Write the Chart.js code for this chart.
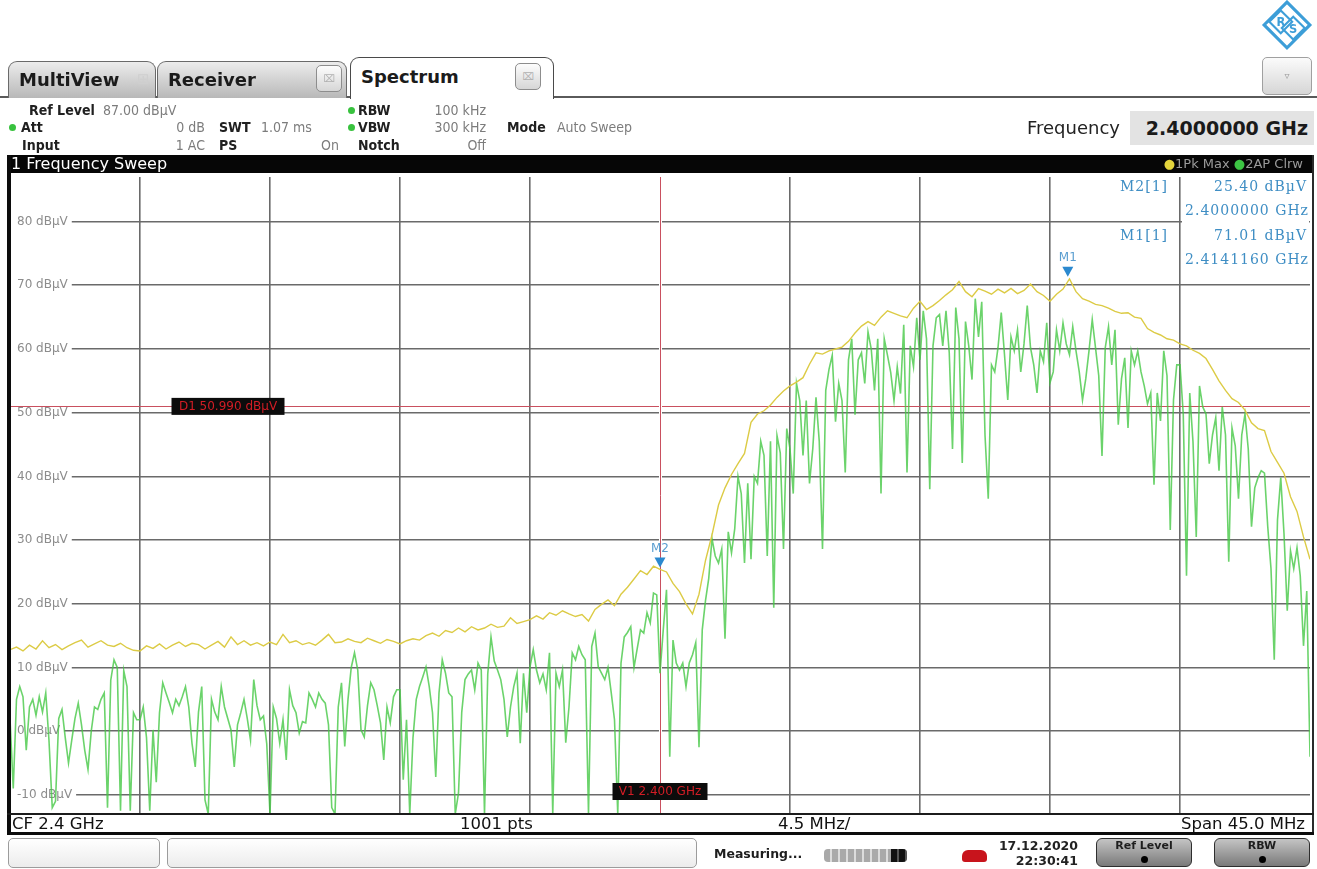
<!DOCTYPE html>
<html>
<head>
<meta charset="utf-8">
<title>1 Frequency Sweep</title>
<script src="https://cdn.jsdelivr.net/npm/chart.js@4.4.1/dist/chart.umd.min.js"></script>
<style>
  body { margin: 0; background: #fff; font-family: "DejaVu Sans", sans-serif; }
  #screen { position: relative; width: 1317px; height: 869px; overflow: hidden; background: #fff; }
  #screen > * { position: absolute; box-sizing: border-box; }
  #sweep { left: 0; top: 0; z-index: 1; }
  .ui { z-index: 2; white-space: nowrap; }
  .tab { top: 61px; height: 37px; border: 1px solid #6a6a6a; border-bottom: none; border-radius: 9px 9px 0 0;
         background: linear-gradient(#ececec, #b8b8b8); font: bold 18px "DejaVu Sans"; line-height: 35px;
         padding-left: 10px; color: #1b1b1b; z-index: 2; }
  .tab.active { top: 57px; height: 42px; background: #fff; border: 1.5px solid #4a4a4a; border-bottom: none;
                line-height: 38px; }
  .close { top: 65px; width: 26px; height: 27px; border: 1px solid #8d8d8d; border-radius: 5px;
           background: linear-gradient(#fdfdfd, #d6d6d6); font: 10px "DejaVu Sans"; color: #b0b0b0;
           text-align: center; line-height: 25px; z-index: 3; }
  .lbl { font: bold 14px "DejaVu Sans Condensed"; color: #202020; line-height: 18px; z-index: 2; }
  .val { font: 14px "DejaVu Sans Condensed"; color: #7c7c7c; line-height: 18px; z-index: 2; white-space: nowrap; }
  .dot { width: 7px; height: 7px; border-radius: 50%; background: #38c23e; z-index: 2; }
  .foot { font: 16.5px "DejaVu Sans"; color: #111; line-height: 17px; top: 815px; z-index: 2; white-space: nowrap; }
  .box { top: 838px; height: 30px; border: 1px solid #9c9c9c; border-radius: 5px;
         background: linear-gradient(#ffffff, #ececec); z-index: 2; }
  .btn { top: 838px; height: 29px; border: 1.5px solid #2e2e2e; border-radius: 6px;
         background: linear-gradient(#c4c4c4, #7a7a7a); z-index: 2; text-align: center;
         font: bold 11px "DejaVu Sans"; color: #1e1e1e; line-height: 14px; }
  .btn span { display: block; width: 7px; height: 7px; border-radius: 50%; background: #000; margin: 3px auto 0; }
</style>
</head>
<body>
<div id="screen">
  <canvas id="sweep" width="1317" height="869"></canvas>

  <!-- logo and tabs -->
  <svg class="ui" style="left:1261px;top:0px" width="52" height="52" viewBox="0 0 50 50">
    <polygon points="25,2 47,24 25,46 3,24" fill="none" stroke="#3d9ed8" stroke-width="3"/>
    <polygon points="19,10 30,21 19,32 8,21" fill="none" stroke="#3d9ed8" stroke-width="2"/>
    <polygon points="31,16 42,27 31,38 20,27" fill="none" stroke="#3d9ed8" stroke-width="2"/>
    <text x="15" y="25" font-family="DejaVu Sans" font-size="11" font-weight="bold" fill="#3d9ed8">R</text>
    <text x="27" y="32" font-family="DejaVu Sans" font-size="11" font-weight="bold" fill="#3d9ed8">S</text>
  </svg>
  <div class="ui" style="left:0;top:96px;width:1317px;height:2px;background:#5a5a5a"></div>
  <div class="tab" style="left:8px;width:148px">MultiView<span style="position:absolute;left:128px;top:0;color:#cfcfcf;font-weight:normal;font-size:15px">&#8862;</span></div>
  <div class="tab" style="left:157px;width:190px">Receiver</div>
  <div class="close" style="left:316px">&#8999;</div>
  <div class="tab active" style="left:350px;width:204px;z-index:3">Spectrum</div>
  <div class="close" style="left:515px;top:63px;z-index:4">&#8999;</div>
  <div class="ui" style="left:1262px;top:57px;width:50px;height:38px;border:1px solid #a0a0a0;border-radius:5px;background:linear-gradient(#fbfbfb,#d6d6d6);text-align:center;font:10px 'DejaVu Sans';color:#999;line-height:36px">&#9663;</div>

  <!-- setting rows -->
  <div class="lbl" style="left:29px;top:101px">Ref Level</div>
  <div class="val" style="left:103px;top:101px">87.00 dBµV</div>
  <div class="dot" style="left:348px;top:107px"></div>
  <div class="lbl" style="left:358px;top:101px">RBW</div>
  <div class="val" style="right:831px;top:101px">100 kHz</div>

  <div class="dot" style="left:9px;top:124px"></div>
  <div class="lbl" style="left:21px;top:118px">Att</div>
  <div class="val" style="right:1112px;top:118px">0 dB</div>
  <div class="lbl" style="left:219px;top:118px">SWT</div>
  <div class="val" style="left:261px;top:118px">1.07 ms</div>
  <div class="dot" style="left:348px;top:124px"></div>
  <div class="lbl" style="left:358px;top:118px">VBW</div>
  <div class="val" style="right:831px;top:118px">300 kHz</div>
  <div class="lbl" style="left:507px;top:118px">Mode</div>
  <div class="val" style="left:557px;top:118px">Auto Sweep</div>

  <div class="lbl" style="left:22px;top:136px">Input</div>
  <div class="val" style="right:1112px;top:136px">1 AC</div>
  <div class="lbl" style="left:219px;top:136px">PS</div>
  <div class="val" style="right:978px;top:136px">On</div>
  <div class="lbl" style="left:358px;top:136px">Notch</div>
  <div class="val" style="right:831px;top:136px">Off</div>

  <div class="ui" style="left:1027px;top:116px;font:18px 'DejaVu Sans';color:#222;line-height:24px">Frequency</div>
  <div class="ui" style="left:1130px;top:111px;width:184px;height:34px;background:#e3e3e3;font:bold 19px 'DejaVu Sans';color:#1a1a1a;line-height:34px;text-align:right;padding-right:6px">2.4000000 GHz</div>

  <!-- window frame -->
  <div class="ui" style="left:7px;top:155px;width:1307px;height:18px;background:#060606;color:#fff;font:16px 'DejaVu Sans';line-height:17px;padding-left:4px">1 Frequency Sweep</div>
  <div class="ui" style="right:14px;top:155px;height:18px;font:13px 'DejaVu Sans';color:#9b9b9b;line-height:18px"><span style="color:#e3d43c">&#9679;</span>1Pk Max <span style="color:#3cc543">&#9679;</span>2AP Clrw</div>
  <div class="ui" style="left:7px;top:155px;width:4px;height:680px;background:#0c0c0c"></div>
  <div class="ui" style="left:1312px;top:155px;width:2px;height:680px;background:#2a2a2a"></div>
  <div class="ui" style="left:7px;top:813px;width:1307px;height:2px;background:#1c1c1c"></div>
  <div class="ui" style="left:7px;top:832px;width:1307px;height:3px;background:#0c0c0c"></div>
  <div class="foot" style="left:12px">CF 2.4 GHz</div>
  <div class="foot" style="left:460px">1001 pts</div>
  <div class="foot" style="left:778px">4.5 MHz/</div>
  <div class="foot" style="right:12px">Span 45.0 MHz</div>

  <!-- status bar -->
  <div class="box" style="left:8px;width:152px"></div>
  <div class="box" style="left:167px;width:530px"></div>
  <div class="ui" style="left:714px;top:846px;font:bold 12.5px 'DejaVu Sans';color:#1e1e1e">Measuring...</div>
  <div class="ui" style="left:824px;top:849px;width:83px;height:13px;border-radius:4px;background:repeating-linear-gradient(90deg,#a9a9a9 0 6px,#dcdcdc 6px 8px)"></div>
  <div class="ui" style="left:891px;top:849px;width:16px;height:13px;border-radius:0 4px 4px 0;background:repeating-linear-gradient(90deg,#111 0 6px,#555 6px 8px)"></div>
  <div class="ui" style="left:962px;top:850px;width:25px;height:12px;border-radius:6px 6px 3px 3px;background:#c8141c"></div>
  <div class="ui" style="right:239px;top:838px;font:bold 12.5px 'DejaVu Sans';color:#222;line-height:15px">17.12.2020</div>
  <div class="ui" style="right:239px;top:853px;font:bold 12.5px 'DejaVu Sans';color:#222;line-height:15px">22:30:41</div>
  <div class="btn" style="left:1096px;width:96px">Ref Level<span></span></div>
  <div class="btn" style="left:1214px;width:96px">RBW<span></span></div>
</div>

<script>
// sweep: CF 2.4 GHz, span 45 MHz, ref level 87 dBµV, 10 dB/div
const spanStartMHz = 2377.5;
const spanStopMHz = 2422.5;
const levelMin = -13;
const levelMax = 87;
const freqTicksMHz = [2382, 2386.5, 2391, 2395.5, 2400, 2404.5, 2409, 2413.5, 2418];
const levelTicks = [-10, 0, 10, 20, 30, 40, 50, 60, 70, 80];

// trace 1, 1Pk Max (dBµV), 20 points per division
const pkMaxLevels = [
  12.8, 13.2, 12.6, 13.5, 12.9, 14.2, 13.1, 13.6, 12.8, 13.4, 13.9, 14.3, 13.2, 13.7, 14.2, 13.5, 13.3, 13.8, 13.1, 12.7,
  12.6, 13.4, 13.0, 13.7, 12.9, 13.5, 14.0, 13.3, 13.8, 13.6, 12.9, 13.5, 14.1, 13.2, 14.8, 13.6, 14.2, 13.5, 13.9, 13.4,
  14.0, 13.6, 15.2, 13.9, 14.2, 13.6, 13.9, 13.5, 14.3, 15.2, 13.9, 14.0, 14.5, 14.1, 13.9, 14.6, 14.2, 13.8, 14.4, 14.1,
  13.7, 14.2, 14.5, 14.3, 15.0, 15.4, 14.9, 15.8, 15.5, 16.2, 15.6, 16.4, 15.9, 16.2, 16.8, 16.3, 16.5, 17.8, 16.9, 17.2,
  17.5, 18.1, 17.6, 18.6, 18.2, 18.9, 18.4, 18.0, 18.3, 17.3, 19.1, 19.9, 20.6, 19.7, 21.5, 22.6, 23.9, 25.2, 24.6, 25.9,
  25.4, 25.0, 23.2, 21.9, 20.0, 18.4, 21.5, 26.8, 30.8, 35.5, 38.2, 40.3, 42.0, 43.6, 48.5, 49.8, 50.3, 51.2, 52.4, 53.4,
  54.2, 54.8, 55.5, 57.6, 59.4, 59.2, 59.7, 60.0, 60.3, 61.2, 62.5, 63.6, 64.3, 63.7, 65.0, 66.0, 65.6, 65.2, 64.9, 66.4,
  67.5, 66.2, 66.8, 67.6, 68.5, 69.3, 70.6, 69.0, 68.2, 69.5, 69.1, 68.6, 69.4, 68.8, 69.5, 68.7, 69.2, 70.2, 69.0, 68.4,
  67.5, 68.6, 69.4, 71.0, 69.0, 67.9, 67.5, 67.0, 66.8, 66.4, 65.9, 65.6, 65.7, 65.0, 64.8, 63.2, 62.6, 62.2, 61.6, 61.4,
  60.8, 60.5, 59.8, 59.3, 58.5, 56.8, 55.0, 53.5, 52.2, 51.6, 50.4, 48.4, 47.5, 47.2, 43.9, 42.2, 40.5, 36.8, 34.5, 30.5,
  27.0
];

// trace 2, AP Clrw (dBµV), 40 points per division
const apClrwLevels = [
  2, -9, 5, 7, 5.4, -3, 3.8, 5, 2.5, 5.4, 3, 6, -1.5, -12, -11, 2, 3.4, -1, -5, -1.4,
  2, 4.4, 1, -3, -6, 0, 3.8, 3.4, 5, 6, -12, 8, 11.2, 10, -12.5, 9.5, 7, -12.5, 2.9, 1.8,
  1.8, 3.8, -1, -12.5, 0.2, -8, 2.9, 7.6, 6, 4.5, 2.9, 5, 4, 5.4, 7, 3.8, -1.9, -5.6, 3, 7,
  -10.8, -13, 5, 3, 1.8, 7, 3.8, 2, 0.2, -5.6, 1, 2.9, 5, 2, -1.4, 8.1, 4, 1.8, 2.4, -2,
  -13, 3.8, 2, -1.9, 1.8, -4.5, 6.5, 4, 2.9, -0.3, 1.5, 1.3, 6, 5, 3.8, 6, 5, 4.4, 1, -12,
  -13, 3.8, 7.6, -2.4, 5, 10, 12.3, 9.6, 0.2, -0.9, 4, 7.6, 6.5, 4, 1.3, -4.5, 3.8, 1.3, 5.4, 6.5,
  6.5, -7.6, 1.8, -13, -1, 5, 7, 8.5, 10.1, 7, 2.9, -7.2, 6, 11.2, 9.1, 6, 5.4, -13, -9.7, 3,
  8.1, 9, 9.6, 6.5, 10.7, 9.6, -13, 9, 14.8, 11, 9.6, 8.1, 5, -0.9, 3.8, 7, 9.1, -1.9, 9.1, 2.9,
  10.1, 12.8, 9.6, 7.6, 9, 6.5, 12.3, -13, 9.1, 7, 9.6, -1.8, 3.8, 12.3, 11.2, 13.3, 12, 11.2, -13, 13.3,
  15.4, 10.1, 9.1, 8.1, 10, 6, 1.8, -13, 10.7, 14.8, 15.5, 16.4, 10, 13, 15.9, 15.4, 18.6, 17, 21.7, 21.4,
  9.1, 15.9, 22.2, -4, 14.3, 10.7, 9.6, 10.7, 7, 10.7, 12, 13.9, -2.5, 15.9, 20.5, 24, 30.2, 27.5, 26.4, 28.6,
  14.5, 31.3, 28, 31.8, 40, 37.3, 26.4, 38.9, 27, 40, 38.9, 45.5, 43.3, 27.5, 45.5, 19.4, 46.4, 43.7, 28.6, 47.5,
  44.3, 37.3, 54.6, 51.9, 43.3, 51.9, 38.9, 44.3, 52.4, 45.5, 28.6, 53.5, 56.8, 59, 48.6, 54.6, 51.9, 40.6, 58.3, 61.6,
  49.7, 58.3, 59.4, 54.6, 62.7, 60, 53.5, 61.6, 37.3, 61.6, 59, 56.3, 51.9, 57.2, 53, 63.8, 40.6, 60.5, 57.2, 64.9,
  58.3, 66, 61.6, 38, 60.5, 64.9, 65.4, 60.5, 66, 59.4, 44.3, 66.5, 61.6, 42.1, 64.3, 60.5, 55.2, 67.9, 61.9, 67.4,
  46.5, 36.5, 57.5, 56.4, 60.2, 65.7, 59.1, 52, 61.9, 59.7, 63, 56.4, 60.8, 66.8, 60.2, 57.5, 53.1, 59.7, 58, 64.1,
  54.7, 56.4, 63, 59.7, 64.1, 60.8, 59.1, 63.5, 59.7, 56.4, 52, 55.3, 59.7, 64.6, 60.2, 55.8, 43.2, 60.2, 63.5, 57.5,
  63, 48.1, 55.3, 58.6, 47.6, 59.7, 57.5, 59.7, 56.4, 54.2, 51.4, 53.1, 38.7, 53.1, 48.7, 59.7, 55.8, 31.6, 52, 57.5,
  57.5, 49.8, 24.4, 53.1, 45.4, 30.5, 54.2, 50.9, 49.8, 42, 46.5, 49.2, 40.9, 50.9, 46.5, 26.6, 47.6, 44.8, 36.5, 46.5,
  49.8, 44.3, 32.1, 38.2, 39.8, 40.9, 40.5, 32.1, 25.5, 11.2, 33.2, 39.8, 31, 18.9, 28.3, 25.5, 28.8, 24.4, 13.4, 22,
  -4
];

const markerNames = ["M1", "M2"];
const markerFreqsMHz = [2414.116, 2400.0];
const markerLevels = [71.01, 25.40];
const d1Level = 50.99;
const v1FreqMHz = 2400;

// sweep points are evenly spaced over the span
const toPoints = levels => levels.map((v, i) => ({
    x: spanStartMHz + i * (spanStopMHz - spanStartMHz) / (levels.length - 1),
    y: v
}));

const overlay = {
    id: "overlay",
    beforeDatasetsDraw(chart) {
        const { ctx, chartArea: area, scales: { x, y } } = chart;
        ctx.save();

        // level labels cut into their grid line
        ctx.font = '12px "DejaVu Sans"';
        ctx.textBaseline = "middle";
        levelTicks.forEach(v => {
            const py = y.getPixelForValue(v);
            const text = v + " dBµV";
            const w = ctx.measureText(text).width;
            ctx.fillStyle = "#fff";
            ctx.fillRect(area.left, py - 2, 7 + w + 4, 4);
            ctx.fillStyle = "#8c8c8c";
            ctx.fillText(text, area.left + 7, py);
        });

        // display line D1 and frequency line V1
        ctx.strokeStyle = "#c9505f";
        ctx.lineWidth = 1;
        const dy = Math.round(y.getPixelForValue(d1Level)) + 0.5;
        ctx.beginPath();
        ctx.moveTo(area.left, dy);
        ctx.lineTo(area.right, dy);
        ctx.stroke();

        const vx = Math.round(x.getPixelForValue(v1FreqMHz)) + 0.5;
        ctx.fillStyle = "#fff";
        ctx.fillRect(vx - 1.5, area.top, 3, area.bottom - area.top);
        ctx.beginPath();
        ctx.moveTo(vx, area.top);
        ctx.lineTo(vx, area.bottom);
        ctx.stroke();
        ctx.restore();
    },
    afterDatasetsDraw(chart) {
        const { ctx, chartArea: area, scales: { x, y } } = chart;
        ctx.save();

        const tag = (text, cx, cy, w) => {
            ctx.fillStyle = "#0c0c0c";
            ctx.fillRect(cx - w / 2, cy - 8.5, w, 17);
            ctx.fillStyle = "#d21d25";
            ctx.font = '12px "DejaVu Sans"';
            ctx.textAlign = "center";
            ctx.textBaseline = "middle";
            ctx.fillText(text, cx, cy + 0.5);
        };
        tag("D1 " + d1Level.toFixed(3) + " dBµV", area.left + 218, y.getPixelForValue(d1Level), 113);
        tag("V1 " + (v1FreqMHz / 1000).toFixed(3) + " GHz", x.getPixelForValue(v1FreqMHz), area.bottom - 22.5, 95);

        // marker flags
        markerNames.forEach((name, i) => {
            const px = x.getPixelForValue(markerFreqsMHz[i]);
            const py = y.getPixelForValue(markerLevels[i]);
            ctx.fillStyle = "#2b89cf";
            ctx.beginPath();
            ctx.moveTo(px - 5.5, py - 12);
            ctx.lineTo(px + 5.5, py - 12);
            ctx.lineTo(px, py - 2);
            ctx.closePath();
            ctx.fill();
            ctx.fillStyle = "#5a9ed0";
            ctx.font = '12px "DejaVu Sans"';
            ctx.textAlign = "center";
            ctx.textBaseline = "middle";
            ctx.fillText(name, px, py - 21);
        });

        // marker table, top right
        ctx.fillStyle = "#fff";
        ctx.fillRect(1182, area.top + 1, area.right - 1183, 92);
        ctx.fillStyle = "#3f8ec4";
        ctx.font = '14px "DejaVu Serif"';
        ctx.letterSpacing = "1px";
        ctx.textBaseline = "middle";
        ctx.textAlign = "right";
        [1, 0].forEach((i, row) => {
            const top = area.top + 10 + row * 49;
            ctx.fillText(markerNames[i] + "[1]", 1168, top);
            ctx.fillText(markerLevels[i].toFixed(2) + " dBµV", 1307, top);
            ctx.fillText((markerFreqsMHz[i] / 1000).toFixed(7) + " GHz", 1309, top + 24);
        });
        ctx.restore();
    }
};

const gridStyle = { color: "#6a6a6a", lineWidth: 1.6, drawTicks: false };

new Chart(document.getElementById("sweep"), {
    type: "line",
    data: {
        datasets: [{
            label: "1Pk Max",
            data: toPoints(pkMaxLevels),
            borderColor: "#dccb45",
            borderWidth: 1.4,
            pointRadius: 0,
            order: 0
        }, {
            label: "2AP Clrw",
            data: toPoints(apClrwLevels),
            borderColor: "rgba(70, 200, 70, 0.8)",
            borderWidth: 1.6,
            pointRadius: 0,
            order: 1
        }]
    },
    options: {
        responsive: false,
        animation: false,
        layout: { padding: { left: 10, right: 7, top: 177, bottom: 55 } },
        plugins: { legend: { display: false }, tooltip: { enabled: false } },
        scales: {
            x: {
                type: "linear",
                min: spanStartMHz,
                max: spanStopMHz,
                afterBuildTicks: scale => { scale.ticks = freqTicksMHz.map(v => ({ value: v })); },
                ticks: { display: false },
                border: { display: false },
                grid: gridStyle
            },
            y: {
                min: levelMin,
                max: levelMax,
                afterBuildTicks: scale => { scale.ticks = levelTicks.map(v => ({ value: v })); },
                ticks: { display: false },
                border: { display: false },
                grid: gridStyle
            }
        }
    },
    plugins: [overlay]
});
</script>
</body>
</html>
